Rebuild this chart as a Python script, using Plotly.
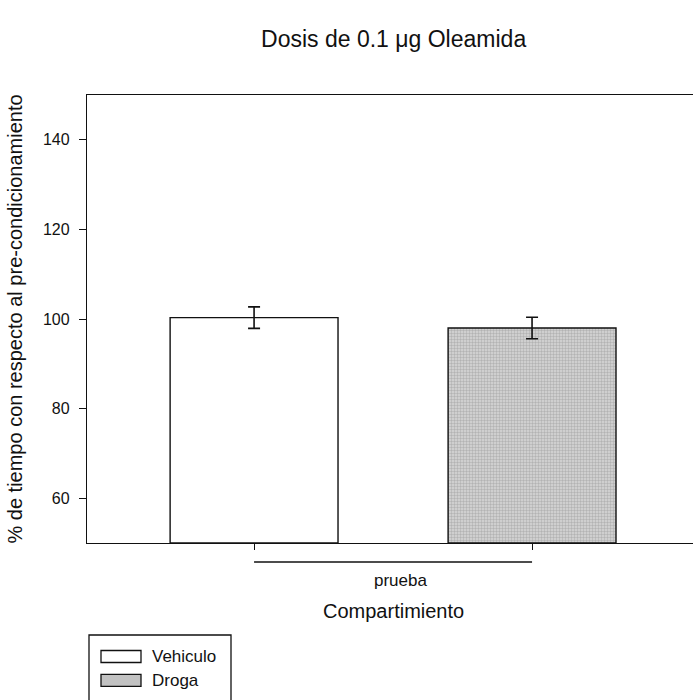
import plotly.graph_objects as go

# Data: percent of time relative to pre-conditioning, mean ± SEM
groups = ["Vehiculo", "Droga"]
means = [100.3, 98.0]
sems = [2.4, 2.4]
fills = ["#ffffff", "#c2c2c2"]
group_label = "prueba"

y_ticks = [60, 80, 100, 120, 140]

FONT = "Liberation Sans, Arial, sans-serif"

fig = go.Figure()
for name, m, e, c in zip(groups, means, sems, fills):
    pattern = dict(shape=".", fgcolor="#8e8e8e", bgcolor="#d8d8d8", size=3, solidity=0.5) if c != "#ffffff" else None
    fig.add_trace(go.Bar(
        x=[name], y=[m - 50], base=50, name=name,
        width=0.604,
        marker=dict(color=c, line=dict(color="#111111", width=1.4),
                    pattern=pattern),
        error_y=dict(type="data", array=[e], visible=True, color="#111111",
                     thickness=1.6, width=6),
        showlegend=False,
    ))

# plot area in pixels: x 87..693, y 95..543
L, T, B = 87, 95, 157
W, H = 693, 700
pw, ph = W - L, H - T - B


def px(x):
    return (x - L) / pw


def py(y):
    return (H - B - y) / ph


fig.update_layout(
    width=W, height=H,
    margin=dict(l=L, r=0, t=T, b=B),
    paper_bgcolor="white", plot_bgcolor="white",
    barmode="overlay",
    font=dict(family=FONT, color="#111111"),
    title=dict(text="Dosis de 0.1 μg Oleamida", x=0.568, xanchor="center",
               y=1 - 39 / H, yanchor="middle", font=dict(size=23)),
    xaxis=dict(range=[-0.601, 1.579], showline=True, linecolor="#111111",
               linewidth=1.4, mirror=True, ticks="outside", ticklen=6,
               tickwidth=1.2, tickcolor="#111111", showticklabels=False,
               showgrid=False, zeroline=False),
    yaxis=dict(range=[50, 150], tickvals=y_ticks, showline=True,
               linecolor="#111111", linewidth=1.4, mirror=False,
               ticks="outside", ticklen=7, tickwidth=1.2, tickcolor="#111111",
               tickfont=dict(size=16), ticklabelstandoff=6,
               showgrid=False, zeroline=False,
               title=dict(text="% de tiempo con respecto al pre-condicionamiento",
                          font=dict(size=20), standoff=14)),
)

# group bracket under the axis
fig.add_shape(type="line", xref="x", yref="paper", x0=0, x1=1,
              y0=py(562), y1=py(562), line=dict(color="#111111", width=1.3))
fig.add_annotation(x=0.5, xref="x", y=py(580), yref="paper", text=group_label,
                   showarrow=False, font=dict(size=17), yanchor="middle", xshift=7)
fig.add_annotation(x=0.5, xref="x", y=py(611), yref="paper", text="Compartimiento",
                   showarrow=False, font=dict(size=20), yanchor="middle")

# legend box
fig.add_shape(type="rect", xref="paper", yref="paper", x0=px(89), x1=px(231),
              y0=py(720), y1=py(635), line=dict(color="#111111", width=1.3),
              fillcolor="white")
rows = [656.5, 680.3]
for name, c, yc in zip(groups, fills, rows):
    fig.add_shape(type="rect", xref="paper", yref="paper", x0=px(101), x1=px(141),
                  y0=py(yc + 6), y1=py(yc - 6),
                  line=dict(color="#111111", width=1.3), fillcolor=c)
    fig.add_annotation(x=px(150), xref="paper", y=py(yc), yref="paper", text=name,
                       showarrow=False, xanchor="left", yanchor="middle",
                       font=dict(size=17))

fig.write_html("out.html")
